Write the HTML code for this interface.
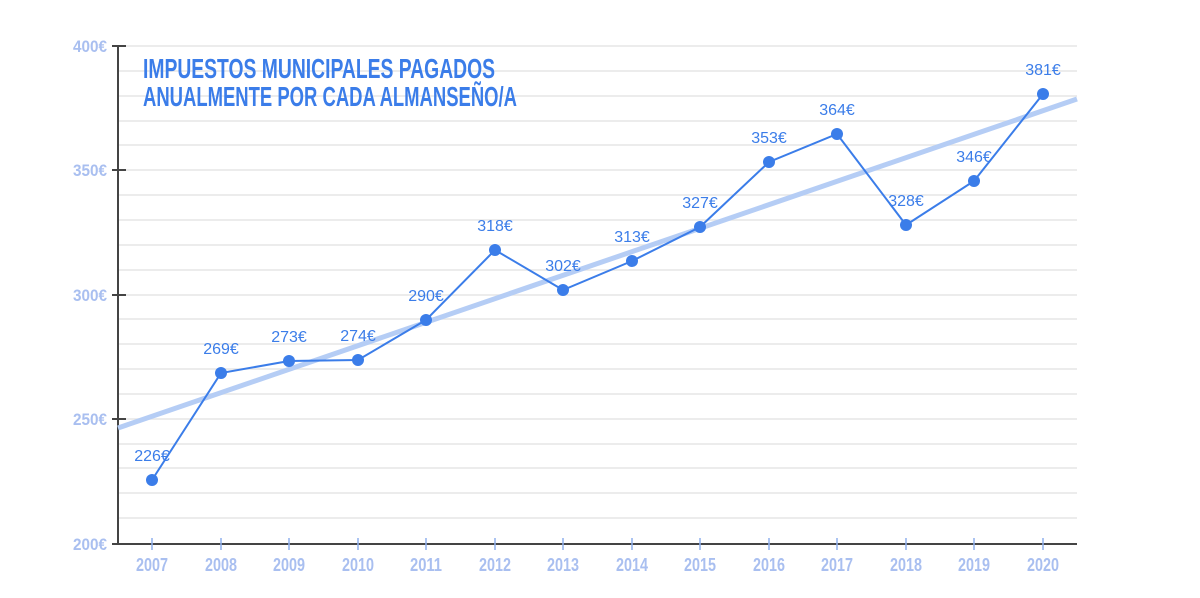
<!DOCTYPE html>
<html><head><meta charset="utf-8"><style>
body{margin:0;background:#fff;}
svg{display:block;}
.yl{font-family:"Liberation Sans",sans-serif;font-weight:bold;font-size:17px;fill:#a9bff0;}
.xl{font-family:"Liberation Sans",sans-serif;font-weight:bold;font-size:18px;fill:#a9bff0;}
.dl{font-family:"Liberation Sans","DejaVu Sans",sans-serif;font-size:16px;fill:#3b7de9;}
.tt{font-family:"Liberation Sans",sans-serif;font-weight:bold;font-size:28px;fill:#3b7de9;}
</style></head><body>
<svg width="1200" height="598" viewBox="0 0 1200 598" xmlns="http://www.w3.org/2000/svg">
<g stroke="#e6e6e6" stroke-width="1.5">
<line x1="118" x2="1077" y1="46" y2="46"/><line x1="118" x2="1077" y1="71" y2="71"/><line x1="118" x2="1077" y1="96" y2="96"/><line x1="118" x2="1077" y1="121" y2="121"/><line x1="118" x2="1077" y1="145" y2="145"/><line x1="118" x2="1077" y1="170" y2="170"/><line x1="118" x2="1077" y1="195" y2="195"/><line x1="118" x2="1077" y1="220" y2="220"/><line x1="118" x2="1077" y1="245" y2="245"/><line x1="118" x2="1077" y1="270" y2="270"/><line x1="118" x2="1077" y1="295" y2="295"/><line x1="118" x2="1077" y1="319" y2="319"/><line x1="118" x2="1077" y1="344" y2="344"/><line x1="118" x2="1077" y1="369" y2="369"/><line x1="118" x2="1077" y1="394" y2="394"/><line x1="118" x2="1077" y1="419" y2="419"/><line x1="118" x2="1077" y1="444" y2="444"/><line x1="118" x2="1077" y1="468" y2="468"/><line x1="118" x2="1077" y1="493" y2="493"/><line x1="118" x2="1077" y1="518" y2="518"/>
</g>
<g stroke="#444" stroke-width="2">
<line x1="118" y1="46" x2="118" y2="544"/>
<line x1="118" y1="544" x2="1077" y2="544"/>
<line x1="112" y1="46" x2="126" y2="46"/><line x1="112" y1="170" x2="126" y2="170"/><line x1="112" y1="295" x2="126" y2="295"/><line x1="112" y1="419" x2="126" y2="419"/><line x1="112" y1="544" x2="118" y2="544"/>
</g>
<g stroke="#8fb0ee" stroke-width="1.5">
<line x1="152" y1="538" x2="152" y2="550"/><line x1="221" y1="538" x2="221" y2="550"/><line x1="289" y1="538" x2="289" y2="550"/><line x1="358" y1="538" x2="358" y2="550"/><line x1="426" y1="538" x2="426" y2="550"/><line x1="495" y1="538" x2="495" y2="550"/><line x1="563" y1="538" x2="563" y2="550"/><line x1="632" y1="538" x2="632" y2="550"/><line x1="700" y1="538" x2="700" y2="550"/><line x1="769" y1="538" x2="769" y2="550"/><line x1="837" y1="538" x2="837" y2="550"/><line x1="906" y1="538" x2="906" y2="550"/><line x1="974" y1="538" x2="974" y2="550"/><line x1="1043" y1="538" x2="1043" y2="550"/>
</g>
<g class="yl">
<text x="73" y="52" textLength="34" lengthAdjust="spacingAndGlyphs">400€</text><text x="73" y="176" textLength="34" lengthAdjust="spacingAndGlyphs">350€</text><text x="73" y="301" textLength="34" lengthAdjust="spacingAndGlyphs">300€</text><text x="73" y="425" textLength="34" lengthAdjust="spacingAndGlyphs">250€</text><text x="73" y="550" textLength="34" lengthAdjust="spacingAndGlyphs">200€</text>
</g>
<g class="xl">
<text x="136" y="571" textLength="32" lengthAdjust="spacingAndGlyphs">2007</text><text x="205" y="571" textLength="32" lengthAdjust="spacingAndGlyphs">2008</text><text x="273" y="571" textLength="32" lengthAdjust="spacingAndGlyphs">2009</text><text x="342" y="571" textLength="32" lengthAdjust="spacingAndGlyphs">2010</text><text x="410" y="571" textLength="32" lengthAdjust="spacingAndGlyphs">2011</text><text x="479" y="571" textLength="32" lengthAdjust="spacingAndGlyphs">2012</text><text x="547" y="571" textLength="32" lengthAdjust="spacingAndGlyphs">2013</text><text x="616" y="571" textLength="32" lengthAdjust="spacingAndGlyphs">2014</text><text x="684" y="571" textLength="32" lengthAdjust="spacingAndGlyphs">2015</text><text x="753" y="571" textLength="32" lengthAdjust="spacingAndGlyphs">2016</text><text x="821" y="571" textLength="32" lengthAdjust="spacingAndGlyphs">2017</text><text x="890" y="571" textLength="32" lengthAdjust="spacingAndGlyphs">2018</text><text x="958" y="571" textLength="32" lengthAdjust="spacingAndGlyphs">2019</text><text x="1027" y="571" textLength="32" lengthAdjust="spacingAndGlyphs">2020</text>
</g>
<line x1="118" y1="428" x2="1077" y2="99" stroke="#b5cdf5" stroke-width="5"/>
<polyline fill="none" stroke="#3b7de9" stroke-width="2" points="152,480 221,373 289,361 358,360 426,320 495,250 563,290 632,261 700,227 769,162 837,134 906,225 974,181 1043,94"/>
<g fill="#3b7de9">
<circle cx="152" cy="480" r="6"/><circle cx="221" cy="373" r="6"/><circle cx="289" cy="361" r="6"/><circle cx="358" cy="360" r="6"/><circle cx="426" cy="320" r="6"/><circle cx="495" cy="250" r="6"/><circle cx="563" cy="290" r="6"/><circle cx="632" cy="261" r="6"/><circle cx="700" cy="227" r="6"/><circle cx="769" cy="162" r="6"/><circle cx="837" cy="134" r="6"/><circle cx="906" cy="225" r="6"/><circle cx="974" cy="181" r="6"/><circle cx="1043" cy="94" r="6"/>
</g>
<g class="dl" text-anchor="middle">
<text x="152" y="461">226€</text><text x="221" y="354">269€</text><text x="289" y="342">273€</text><text x="358" y="341">274€</text><text x="426" y="301">290€</text><text x="495" y="231">318€</text><text x="563" y="271">302€</text><text x="632" y="242">313€</text><text x="700" y="208">327€</text><text x="769" y="143">353€</text><text x="837" y="115">364€</text><text x="906" y="206">328€</text><text x="974" y="162">346€</text><text x="1043" y="75">381€</text>
</g>
<text class="tt" x="143" y="78" textLength="352" lengthAdjust="spacingAndGlyphs">IMPUESTOS MUNICIPALES PAGADOS</text>
<text class="tt" x="143" y="106" textLength="374" lengthAdjust="spacingAndGlyphs">ANUALMENTE POR CADA ALMANSEÑO/A</text>
</svg>
</body></html>
